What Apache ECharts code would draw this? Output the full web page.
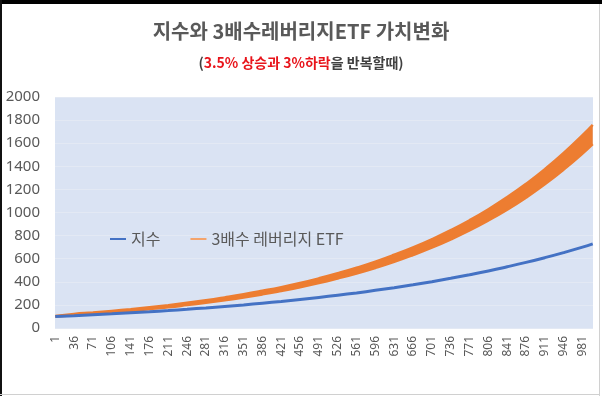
<!DOCTYPE html>
<html>
<head>
<meta charset="utf-8">
<script src="https://cdn.jsdelivr.net/npm/echarts@6/dist/echarts.min.js"></script>
<style>
html,body{margin:0;padding:0;background:#fff;}
#c{width:602px;height:396px;}
</style>
</head>
<body>
<div id="c"></div>
<script>
// ---- data ----
const titleText = '지수와 3배수레버리지ETF 가치변화';
const seriesNames = ['지수', '3배수 레버리지 ETF'];
const yTicks = [0, 200, 400, 600, 800, 1000, 1200, 1400, 1600, 1800, 2000];
const stepCount = 1000;
const sampleSteps = [1,36,71,106,141,176,211,246,281,316,351,386,421,456,491,526,561,596,631,666,701,736,771,806,841,876,911,946,981,1000];
const indexValues = [100,107,115,123,132,141,151,162,174,187,200,215,230,247,265,284,304,326,349,374,401,430,461,494,530,568,609,653,700,728];
const etfLow  = [100,110,122,134,148,163,179,198,218,240,264,291,321,353,389,429,472,520,573,632,696,767,845,931,1025,1129,1244,1371,1510,1592];
const etfHigh = [104,122,134,148,163,180,198,218,240,265,292,322,354,390,430,474,522,575,634,698,769,847,933,1028,1133,1248,1375,1515,1669,1759];

const categories = [];
for (let i = 1; i <= stepCount; i++) categories.push(String(i));

const blue = '#4472C4', orange = '#ED7D31';
const font = '"Noto Sans CJK KR", "Noto Sans", sans-serif';

const idxData = sampleSteps.map((s, i) => [s - 1, indexValues[i]]);
const lowData = sampleSteps.map((s, i) => [s - 1, etfLow[i]]);
const bandData = sampleSteps.map((s, i) => [s - 1, etfHigh[i] - etfLow[i]]);

const chart = echarts.init(document.getElementById('c'), null, {renderer: 'canvas'});
chart.setOption({
  animation: false,
  backgroundColor: '#ffffff',
  title: [
    {text: titleText, left: 'center', top: 16,
     textStyle: {fontFamily: font, fontSize: 20, fontWeight: 'bold', color: '#595959'}},
    {text: '{d|(}{r|3.5% 상승과 3%하락}{d|을 반복할때)}', left: 'center', top: 51,
     textStyle: {rich: {
       d: {fontFamily: font, fontSize: 14, fontWeight: 'bold', color: '#404040'},
       r: {fontFamily: font, fontSize: 14, fontWeight: 'bold', color: '#E8141B'}
     }}}
  ],
  legend: {
    data: [{name: seriesNames[0], itemStyle: {color: blue}},
           {name: seriesNames[1], itemStyle: {color: '#F4A46C'}}],
    left: 105, top: 226, icon: 'rect', itemWidth: 16, itemHeight: 2, itemGap: 30,
    textStyle: {fontFamily: font, fontSize: 16, color: '#595959'}
  },
  grid: {left: 55, right: 9, top: 97, bottom: 68, show: true, backgroundColor: '#DAE3F3', borderWidth: 0},
  xAxis: {
    type: 'category', data: categories, boundaryGap: true,
    axisLine: {show: false}, axisTick: {show: false},
    axisLabel: {interval: 34, rotate: 90, fontFamily: '"Noto Sans", sans-serif', fontSize: 12, color: '#595959', margin: 8}
  },
  yAxis: {
    type: 'value', min: yTicks[0], max: yTicks[yTicks.length - 1], interval: yTicks[1] - yTicks[0],
    axisLine: {show: false}, axisTick: {show: false},
    axisLabel: {fontFamily: '"Noto Sans", sans-serif', fontSize: 15, color: '#595959', margin: 15,
      formatter: v => String(v)},
    splitLine: {lineStyle: {color: '#E3E9F4', width: 1}}
  },
  series: [
    {name: 'etf-low', type: 'line', stack: 'etf', data: lowData, showSymbol: false, smooth: true,
     lineStyle: {color: orange, width: 2.5}, itemStyle: {color: orange}, z: 2},
    {name: seriesNames[1], type: 'line', stack: 'etf', data: bandData, showSymbol: false, smooth: true,
     lineStyle: {color: orange, width: 2.5}, itemStyle: {color: orange},
     areaStyle: {color: orange, opacity: 1}, z: 2},
    {name: seriesNames[0], type: 'line', data: idxData, showSymbol: false, smooth: true,
     lineStyle: {color: blue, width: 3}, itemStyle: {color: blue}, z: 3}
  ],
  graphic: [
    {type: 'rect', shape: {x: 0, y: 0, width: 602, height: 4}, style: {fill: '#000'}, silent: true},
    {type: 'rect', shape: {x: 0, y: 0, width: 2, height: 396}, style: {fill: '#111'}, silent: true},
    {type: 'rect', shape: {x: 599, y: 4, width: 1, height: 392}, style: {fill: '#d0d0d0'}, silent: true},
    {type: 'rect', shape: {x: 0, y: 394, width: 600, height: 1}, style: {fill: '#d0d0d0'}, silent: true}
  ]
});
</script>
</body>
</html>
